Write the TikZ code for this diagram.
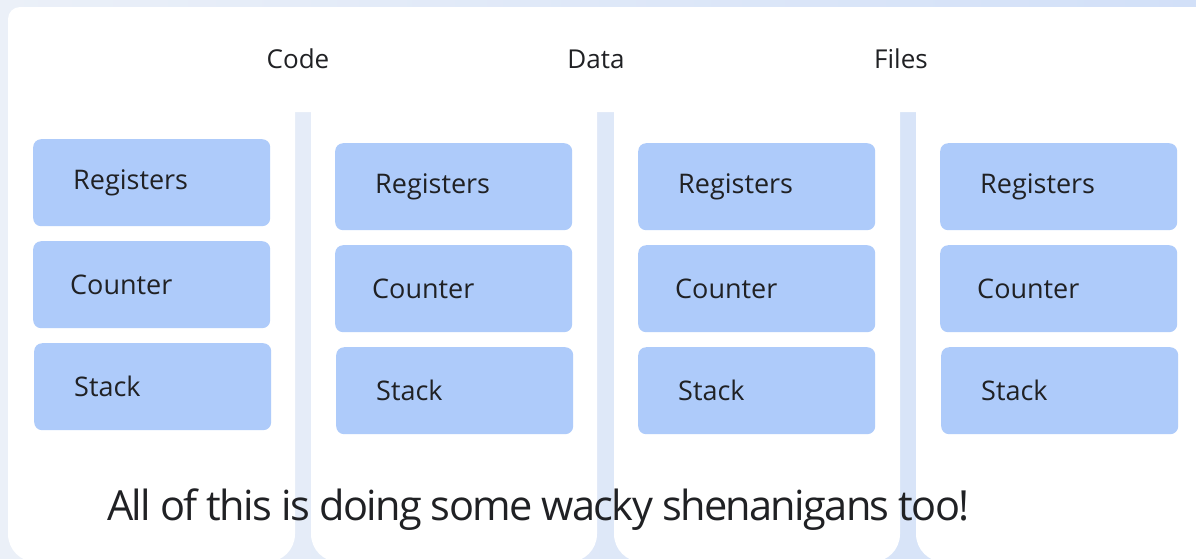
\documentclass[tikz,border=0pt]{standalone}
\usepackage{fontspec}
\setmainfont{Open Sans}
\definecolor{bgL}{HTML}{EBF0F8}
\definecolor{bgR}{HTML}{D2E0F8}
\definecolor{boxblue}{HTML}{AECBFA}
\definecolor{ink}{HTML}{202124}
\begin{document}
\begin{tikzpicture}[x=1pt,y=-1pt,
  cell/.style={anchor=north west, fill=boxblue, rounded corners=8pt,
    minimum height=87pt, inner xsep=40pt, text width=157pt, align=left,
    text=ink, font=\fontsize{27}{32}\selectfont},
  shiftin/.style={inner xsep=37pt, text width=163pt},
  heading/.style={text=ink, font=\fontsize{26}{31}\selectfont},
  panel/.style={fill=white}]
\useasboundingbox (0,0) rectangle (1196,558);
\shade[left color=bgL, right color=bgR] (0,0) rectangle (1196,558);
\begin{scope}
\clip (0,0) rectangle (1196,558);
% shared header strip
\fill[panel, rounded corners=12pt] (8,7) rectangle (1210,112);
% four thread columns
\fill[panel, rounded corners=28pt] (8,60) rectangle (295,562);
\fill[panel, rounded corners=28pt] (311,60) rectangle (597,562);
\fill[panel, rounded corners=28pt] (614,60) rectangle (900,562);
\fill[panel, rounded corners=28pt] (916,60) rectangle (1230,562);
\end{scope}
% shared resources
\node[heading] (code) at (298,59) {Code};
\node[heading] (data) at (596,59) {Data};
\node[heading] (files) at (901,59) {Files};
% per-thread state
\node[cell] (reg1) at (33,139) {Registers};
\node[cell, shiftin] (cnt1) at (33,241) {Counter};
\node[cell] (stk1) at (34,343) {Stack};
\node[cell] (reg2) at (335,143) {Registers};
\node[cell, shiftin] (cnt2) at (335,245) {Counter};
\node[cell] (stk2) at (336,347) {Stack};
\node[cell] (reg3) at (638,143) {Registers};
\node[cell, shiftin] (cnt3) at (638,245) {Counter};
\node[cell] (stk3) at (638,347) {Stack};
\node[cell] (reg4) at (940,143) {Registers};
\node[cell, shiftin] (cnt4) at (940,245) {Counter};
\node[cell] (stk4) at (941,347) {Stack};
% caption
\node[anchor=base west, inner sep=0pt, text=ink, font=\fontsize{41.5}{50}\selectfont\addfontfeature{LetterSpace=-4}] (note) at (107,520) {All of this is doing some wacky shenanigans too!};
\end{tikzpicture}
\end{document}
